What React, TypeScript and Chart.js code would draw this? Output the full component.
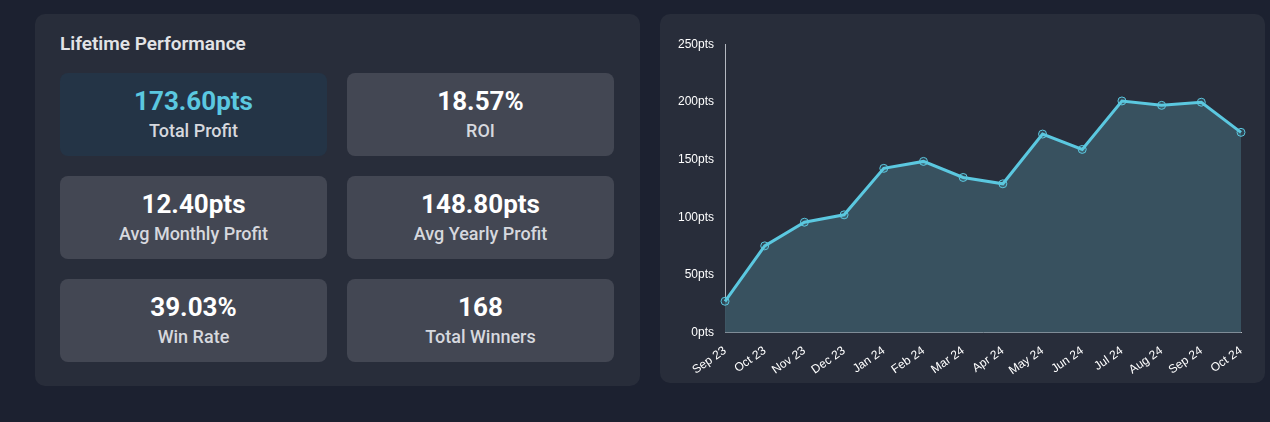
import React, { useEffect, useRef } from "react";
import { Chart, registerables } from "chart.js";

Chart.register(...registerables);

const months = ["Sep 23", "Oct 23", "Nov 23", "Dec 23", "Jan 24", "Feb 24", "Mar 24", "Apr 24", "May 24", "Jun 24", "Jul 24", "Aug 24", "Sep 24", "Oct 24"];
const cumulativeProfit = [27.2, 75.2, 95.7, 102.1, 142.4, 148.4, 134.5, 129.0, 172.1, 158.8, 200.8, 197.0, 199.7, 173.6];

const statValues = ["173.60pts", "18.57%", "12.40pts", "148.80pts", "39.03%", "168"];
const statLabels = ["Total Profit", "ROI", "Avg Monthly Profit", "Avg Yearly Profit", "Win Rate", "Total Winners"];

const TEAL = "#5bc8e0";

function StatCard({ value, label, highlight, left, top }: { value: string; label: string; highlight: boolean; left: number; top: number }) {
  return (
    <div
      style={{
        position: "absolute",
        left,
        top,
        width: 267,
        height: 83,
        borderRadius: 8,
        background: highlight ? "#243446" : "#434753",
        fontFamily: "Roboto, sans-serif",
        textAlign: "center",
      }}
    >
      <div style={{ position: "absolute", left: 0, right: 0, top: 13, fontSize: 26, fontWeight: 700, lineHeight: "30px", color: highlight ? TEAL : "#ffffff" }}>{value}</div>
      <div style={{ position: "absolute", left: 0, right: 0, top: 47, fontSize: 18, fontWeight: 500, lineHeight: "22px", color: "#d6d8de" }}>{label}</div>
    </div>
  );
}

function ProfitChart() {
  const ref = useRef<HTMLCanvasElement | null>(null);
  useEffect(() => {
    if (!ref.current) return;
    const tickFont = { family: "'Liberation Sans', Arial, sans-serif", size: 12, weight: "normal" as const };
    const chart = new Chart(ref.current, {
      type: "line",
      data: {
        labels: months,
        datasets: [
          {
            data: cumulativeProfit,
            borderColor: TEAL,
            borderWidth: 3,
            backgroundColor: "rgb(56,81,95)",
            fill: "origin",
            tension: 0,
            pointRadius: 4,
            pointBorderWidth: 1,
            pointBorderColor: TEAL,
            pointBackgroundColor: "rgba(91,200,224,0.15)",
          },
        ],
      },
      options: {
        responsive: false,
        animation: false,
        layout: { padding: { left: 0, right: 14, top: 4, bottom: 0 } },
        plugins: { legend: { display: false }, tooltip: { enabled: false } },
        scales: {
          x: {
            offset: false,
            grid: { display: false },
            border: { display: true, color: "#b4b8c0", width: 1 },
            ticks: {
              color: "#ffffff",
              font: tickFont,
              maxRotation: 35,
              minRotation: 35,
              autoSkip: false,
            },
          },
          y: {
            min: 0,
            max: 250,
            grid: { display: false },
            border: { display: true, color: "#b4b8c0", width: 1 },
            ticks: {
              stepSize: 50,
              color: "#ffffff",
              font: tickFont,
              callback: (v: any) => `${v}pts`,
            },
          },
        },
      },
    });
    return () => chart.destroy();
  }, []);
  return <canvas ref={ref} width={580} height={347} style={{ position: "absolute", left: 675, top: 34, width: 580, height: 347 }} />;
}

export default function App() {
  const cardLefts = [60, 347];
  const cardTops = [73, 176, 279];
  return (
    <div style={{ position: "fixed", left: 0, top: 0, width: 1270, height: 422, background: "#1c2130", overflow: "hidden" }}>
      <div style={{ position: "absolute", left: 35, top: 14, width: 605, height: 372, borderRadius: 10, background: "#282d3a" }} />
      <div style={{ position: "absolute", left: 60, top: 33, fontFamily: "Roboto, sans-serif", fontSize: 19, fontWeight: 600, color: "#e2e3e6", lineHeight: "22px" }}>Lifetime Performance</div>
      {statValues.map((v, i) => (
        <StatCard key={i} value={v} label={statLabels[i]} highlight={i === 0} left={cardLefts[i % 2]} top={cardTops[Math.floor(i / 2)]} />
      ))}
      <div style={{ position: "absolute", left: 660, top: 14, width: 605, height: 369, borderRadius: 10, background: "#282d3a" }} />
      <ProfitChart />
    </div>
  );
}
